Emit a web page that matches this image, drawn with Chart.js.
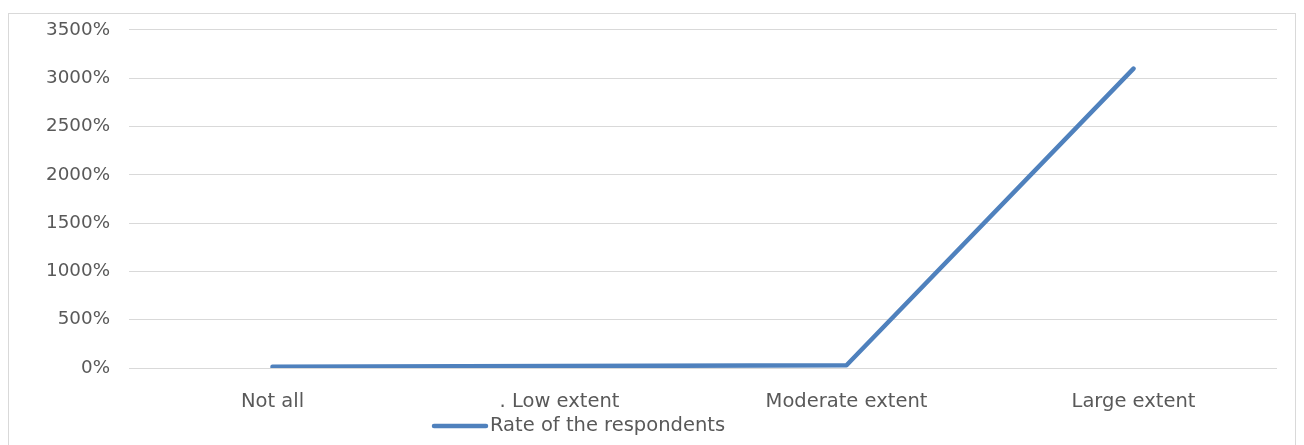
<!DOCTYPE html>
<html>
<head>
<meta charset="utf-8">
<script src="https://cdn.jsdelivr.net/npm/chart.js@4"></script>
<style>
  html, body { margin: 0; padding: 0; background: #fff; }
  #wrap { position: relative; width: 1304px; height: 445px; }
  #frame { position: absolute; left: 8px; top: 13px; width: 1288px; height: 440px; border: 1px solid #d9d9d9; box-sizing: border-box; pointer-events: none; }
</style>
</head>
<body>
<div id="wrap">
  <canvas id="chart" width="1304" height="445"></canvas>
  <div id="frame"></div>
</div>
<script>
const categories = ['Not all', '. Low extent', 'Moderate extent', 'Large extent'];
const rates = [12, 20, 28, 3100];
const seriesLabel = 'Rate of the respondents';
const yTicks = [0, 500, 1000, 1500, 2000, 2500, 3000, 3500];

const fontFamily = '"DejaVu Sans", sans-serif';
const labelSize = 19.5;
const tickSize = 18.3;
const textColor = '#595959';
const lineColor = '#4f81bd';

// legend drawn by hand so it sits where the original has it
const legendPlugin = {
  id: 'bottomLegend',
  afterDraw(chart) {
    const ctx = chart.ctx;
    const y = 426;
    ctx.save();
    ctx.strokeStyle = lineColor;
    ctx.lineWidth = 4.5;
    ctx.lineCap = 'round';
    ctx.beginPath();
    ctx.moveTo(434, y);
    ctx.lineTo(486, y);
    ctx.stroke();
    ctx.fillStyle = textColor;
    ctx.font = labelSize + 'px ' + fontFamily;
    ctx.textBaseline = 'middle';
    ctx.fillText(chart.data.datasets[0].label, 490, y);
    ctx.restore();
  }
};

new Chart(document.getElementById('chart'), {
  type: 'line',
  data: {
    labels: categories,
    datasets: [{
      label: seriesLabel,
      data: rates,
      borderColor: lineColor,
      borderWidth: 4.5,
      borderCapStyle: 'round',
      borderJoinStyle: 'round',
      pointRadius: 0,
      tension: 0,
      fill: false,
    }],
  },
  options: {
    responsive: false,
    animation: false,
    layout: { padding: { left: 0, right: 27, top: 29, bottom: 0 } },
    plugins: {
      legend: { display: false },
      tooltip: { enabled: false },
    },
    scales: {
      x: {
        offset: true,
        grid: { display: false, drawTicks: false },
        border: { display: false },
        ticks: {
          color: textColor,
          font: { family: fontFamily, size: labelSize },
          padding: 22,
          maxRotation: 0,
        },
        afterFit(scale) { scale.height = 77; },
      },
      y: {
        min: 0,
        max: 3500,
        afterBuildTicks(scale) { scale.ticks = yTicks.map(v => ({ value: v })); },
        grid: { color: '#d9d9d9', lineWidth: 1, drawTicks: false },
        border: { display: false },
        ticks: {
          color: textColor,
          font: { family: fontFamily, size: tickSize },
          padding: 19,
          callback: v => v + '%',
        },
        afterFit(scale) { scale.width = 129; },
      },
    },
  },
  plugins: [legendPlugin],
});
</script>
</body>
</html>
